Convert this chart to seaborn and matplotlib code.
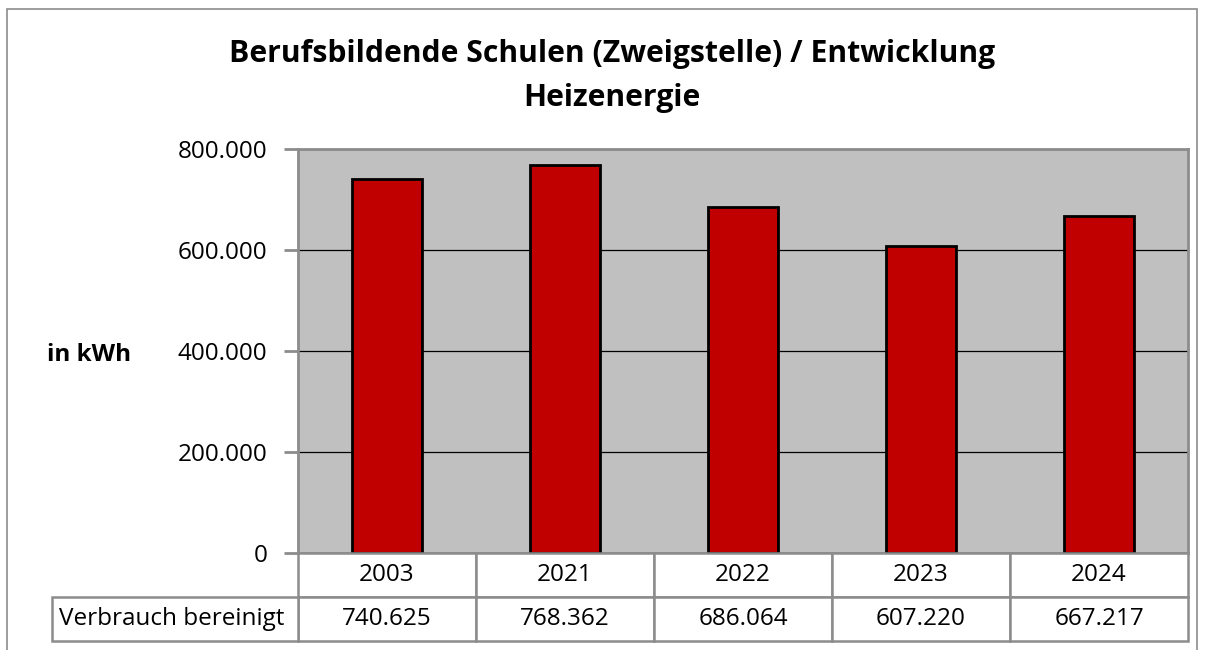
import numpy as np
import pandas as pd
import seaborn as sns
import matplotlib.pyplot as plt
from matplotlib.patches import Rectangle
from matplotlib.ticker import FuncFormatter

years = ["2003", "2021", "2022", "2023", "2024"]
verbrauch = [740625, 768362, 686064, 607220, 667217]
series_name = "Verbrauch bereinigt"
title = "Berufsbildende Schulen (Zweigstelle) / Entwicklung\nHeizenergie"
y_label = "in kWh"


def de_format(v, pos=None):
    return f"{int(round(v)):,}".replace(",", ".")


df = pd.DataFrame({"Jahr": years, "Wert": verbrauch})

sns.set_style("white")
plt.rcParams["font.family"] = ["Open Sans", "DejaVu Sans"]
plt.rcParams["text.color"] = "black"

fig = plt.figure(figsize=(12.12, 6.5), dpi=100)
W, H = 1212, 650
# plot area in pixels: x 298..1188, y 149..553
ax = fig.add_axes([298 / W, 1 - 553 / H, 890 / W, 404 / H])

sns.barplot(data=df, x="Jahr", y="Wert", order=years, color="#C00000",
            saturation=1, width=0.39, edgecolor="black", linewidth=2,
            ax=ax, zorder=3)

ax.set_facecolor("#C0C0C0")
ax.set_ylim(0, 800000)
ax.set_xlim(-0.5, 4.5)
ax.set_yticks([0, 200000, 400000, 600000, 800000])
ax.yaxis.set_major_formatter(FuncFormatter(de_format))
ax.grid(axis="y", color="black", linewidth=0.9, zorder=1)
ax.set_axisbelow(True)
ax.set_xticks([])
ax.set_xlabel("")
ax.set_ylabel("")
for s in ax.spines.values():
    s.set_color("#8C8C8C")
    s.set_linewidth(2)
    s.set_visible(True)
ax.tick_params(axis="y", direction="out", length=10, width=2, color="#8C8C8C",
               labelsize=17.5, pad=12, left=True, labelcolor="black")

# data table below plot, drawn in axes fraction units
row_h = 44 / 404
lbl_w = 246 / 890
col_w = 1 / len(years)
edge = "#8C8C8C"


def cell(x, y, w, h, text, ha="center", dx=0.0):
    ax.add_patch(Rectangle((x, y), w, h, transform=ax.transAxes,
                           facecolor="white", edgecolor=edge, linewidth=1.8,
                           clip_on=False, zorder=5))
    tx = x + w / 2 if ha == "center" else x + dx
    ax.text(tx, y + h / 2, text, transform=ax.transAxes, ha=ha, va="center",
            fontsize=17.5, color="black", zorder=6, clip_on=False)


for i, (yr, v) in enumerate(zip(years, verbrauch)):
    cell(i * col_w, -row_h, col_w, row_h, yr)
    cell(i * col_w, -2 * row_h, col_w, row_h, de_format(v))
cell(-lbl_w, -2 * row_h, lbl_w, row_h, series_name, ha="left", dx=7 / 890)

fig.text(612 / W, 1 - 76 / H, title, ha="center", va="center",
         fontsize=21.7, fontweight="bold", linespacing=1.62, color="black")
fig.text(89 / W, 1 - 355 / H, y_label, ha="center", va="center",
         fontsize=17.5, fontweight="bold", color="black")

# outer chart border
fig.add_artist(Rectangle((7 / W, -0.05), (1197 - 7) / W, 1 - 9 / H + 0.05,
                         transform=fig.transFigure, fill=False,
                         edgecolor="#8C8C8C", linewidth=1.2))

fig.savefig("out.png", dpi=100)
